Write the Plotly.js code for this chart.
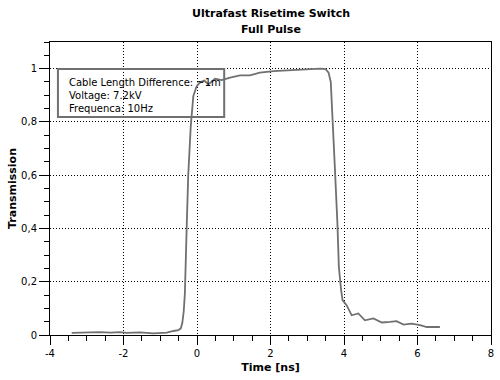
<!DOCTYPE html>
<html>
<head>
<meta charset="utf-8">
<script src="https://cdn.plot.ly/plotly-3.0.1.min.js"></script>
<style>html,body{margin:0;padding:0;background:#fff;}#chart{width:500px;height:380px;}</style>
</head>
<body>
<div id="chart"></div>
<script>
// Time [ns]
const timeNs = [-3.41,-3.05,-2.64,-2.35,-2.10,-1.91,-1.55,-1.19,-0.82,-0.64,-0.51,-0.44,-0.40,-0.36,-0.33,-0.28,-0.24,-0.17,-0.10,-0.01,0.10,0.20,0.31,0.49,0.67,0.90,1.17,1.44,1.71,2.08,2.53,2.98,3.35,3.50,3.58,3.64,3.69,3.75,3.82,3.86,3.92,3.96,4.07,4.21,4.39,4.57,4.80,5.03,5.25,5.43,5.62,5.84,6.07,6.25,6.61];
// Transmission
const transmission = [0.008,0.010,0.011,0.009,0.011,0.008,0.010,0.006,0.009,0.015,0.018,0.025,0.045,0.090,0.156,0.407,0.595,0.784,0.897,0.934,0.950,0.955,0.941,0.962,0.957,0.966,0.975,0.975,0.985,0.991,0.994,0.995,1.0,0.998,0.985,0.95,0.821,0.633,0.42,0.256,0.17,0.131,0.112,0.074,0.081,0.055,0.062,0.047,0.049,0.052,0.039,0.043,0.037,0.030,0.030];
const xTickVals = [-4, -2, 0, 2, 4, 6, 8];
const xTickText = ["-4", "-2", "0", "2", "4", "6", "8"];
const infoLines = ["Cable Length Difference: ~1m", "Voltage: 7.2kV", "Frequenca: 10Hz"];
const titleLines = ["Ultrafast Risetime Switch", "Full Pulse"];

const FONT = "DejaVu Sans, Verdana, sans-serif";
const trace = {
  x: timeNs, y: transmission, type: "scatter", mode: "lines",
  line: {color: "#707070", width: 1.8}, hoverinfo: "none", showlegend: false
};
const axisCommon = {
  showline: true, linecolor: "#000", linewidth: 1, mirror: true,
  ticks: "outside", tickcolor: "#000", tickwidth: 1, ticklen: 9,
  showgrid: true, gridcolor: "#000", gridwidth: 1, griddash: "1px,2px",
  zeroline: false, tickfont: {family: FONT, size: 10, color: "#000"},
  fixedrange: true
};
const titleFont = {family: FONT, size: 11, color: "#000"};
const layout = {
  width: 500, height: 380,
  margin: {l: 50, r: 9, t: 42, b: 45},
  paper_bgcolor: "#fff", plot_bgcolor: "#fff",
  separators: ",.",
  xaxis: Object.assign({}, axisCommon, {
    range: [-4, 8], tickmode: "array", tickvals: xTickVals, ticktext: xTickText,
    minor: {dtick: 0.5, tick0: 0, ticklen: 5, tickcolor: "#000", showgrid: false, ticks: "outside"},
    title: {text: "<b>Time [ns]</b>", font: titleFont, standoff: 5}
  }),
  yaxis: Object.assign({}, axisCommon, {
    range: [0, 1.1], dtick: 0.2, tick0: 0, ticklen: 10,
    minor: {dtick: 0.05, ticklen: 5, tickcolor: "#000", showgrid: false, ticks: "outside"},
    title: {text: "<b>Transmission</b>", font: titleFont, standoff: 2}
  }),
  shapes: [{
    type: "rect", xref: "paper", yref: "paper",
    x0: 0.018, x1: 0.395, y0: 0.744, y1: 0.908,
    line: {color: "#707070", width: 2}, fillcolor: "rgba(0,0,0,0)"
  }],
  annotations: [
    {xref: "paper", yref: "paper", x: 0.5, y: 1.0956, xanchor: "center", yanchor: "middle",
     showarrow: false, text: "<b>" + titleLines[0] + "</b>", font: titleFont},
    {xref: "paper", yref: "paper", x: 0.5, y: 1.044, xanchor: "center", yanchor: "middle",
     showarrow: false, text: "<b>" + titleLines[1] + "</b>", font: titleFont},
    {xref: "paper", yref: "paper", x: 0.038, y: 0.888,
     xanchor: "left", yanchor: "top", align: "left", showarrow: false,
     text: infoLines.join("<br>"), font: {family: FONT, size: 10, color: "#000"}}
  ]
};
Plotly.newPlot("chart", [trace], layout, {staticPlot: true, displayModeBar: false});
</script>
</body>
</html>
